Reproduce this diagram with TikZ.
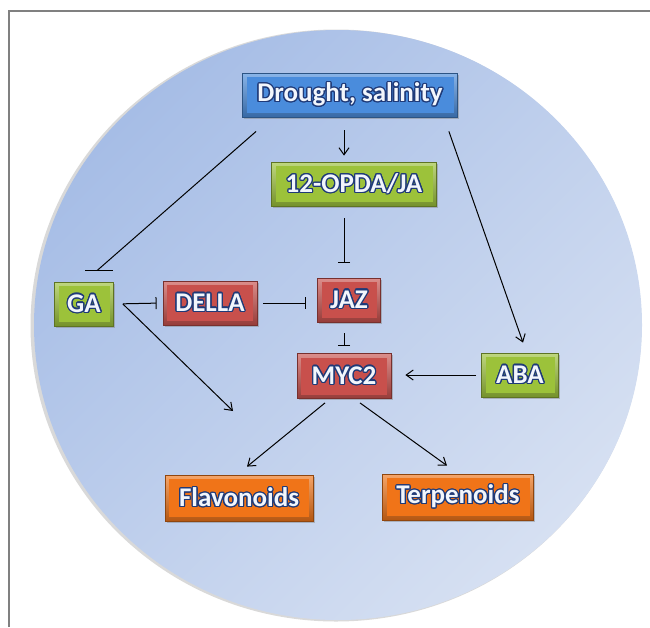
\documentclass[tikz,border=0pt]{standalone}
\usepackage{fontspec}
\setmainfont{Carlito}
\usepackage[copies]{contour}
\contourlength{1.2pt}
\usetikzlibrary{arrows.meta,calc,positioning,shadows}
\definecolor{rand}{HTML}{1F3A78}
\definecolor{skrift}{HTML}{F2F6FC}
\definecolor{blaa}{HTML}{4A8CDC}
\definecolor{gruen}{HTML}{9CC23A}
\definecolor{rot}{HTML}{C8504C}
\definecolor{orange}{HTML}{F07418}
\definecolor{kreisA}{HTML}{A6BDE6}
\definecolor{kreisB}{HTML}{D6E0F2}
\tikzset{
    >={Straight Barb[length=7pt,width=10pt]},
    boks/.style={
           rectangle,
           draw=#1!60!black, line width=0.8pt,
           top color=#1!65!white, bottom color=#1!75!black,
           path picture={\fill[#1] ([xshift=4pt, yshift=-4pt]path picture bounding box.north west)
                 rectangle ([xshift=-4pt, yshift=4pt]path picture bounding box.south east);},
           minimum height=44pt,
           inner sep=0pt,
           font=\fontsize{27}{27}\selectfont\bfseries,
           text=skrift,
           drop shadow={shadow xshift=1.5pt, shadow yshift=-1.5pt, opacity=.45},
           text centered},
    pil/.style={
           ->,
           line width=1pt},
    hem/.style={
           -{Bar[width=12pt]},
           line width=1pt}
}
\newcommand{\lbl}[1]{\contour{rand}{#1}}

\begin{document}
\begin{tikzpicture}[x=1pt, y=-1pt]
        \useasboundingbox (0,0) rectangle (650,627);
        \draw[black!50, line width=1.2pt] (9,627) -- (9,11) -- (650,11);

        \fill[black!25, opacity=.6] (336,325.5) ellipse [x radius=305.5pt, y radius=296pt];
        \shade[top color=kreisA, bottom color=kreisB, shading angle=45]
              (338,325) ellipse [x radius=304pt, y radius=295pt];

        \node[boks=blaa, minimum width=215pt] (drought) at (350,95) {\lbl{Drought, salinity}};
        \node[boks=gruen, minimum width=165pt] (opda) at (354,184) {\lbl{12-OPDA/JA}};
        \node[boks=gruen, minimum width=59pt] (ga) at (84,304) {\lbl{GA}};
        \node[boks=rot, minimum width=94pt] (della) at (210,303) {\lbl{DELLA}};
        \node[boks=rot, minimum width=63pt] (jaz) at (349,300) {\lbl{JAZ}};
        \node[boks=rot, minimum width=94pt, minimum height=45pt] (myc) at (344,376) {\lbl{MYC2}};
        \node[boks=gruen, minimum width=77pt] (aba) at (520,375) {\lbl{ABA}};
        \node[boks=orange, minimum width=148pt, minimum height=46pt] (flav) at (239,498) {\lbl{Flavonoids}};
        \node[boks=orange, minimum width=151pt, minimum height=46pt] (terp) at (458,497) {\lbl{Terpenoids}};

        \coordinate (gatop) at ([xshift=13pt, yshift=11pt]ga.north);
        \coordinate (ziel) at (233,411);

        \draw[pil, shorten <=13pt, shorten >=6pt] (drought.south -| myc) -- (opda.north -| myc);
        \draw[pil] ([xshift=-9pt, yshift=-14pt]drought.south east) -- ([xshift=3pt, yshift=10pt]aba.north);
        \draw[line width=1pt] ([xshift=14pt, yshift=-14pt]drought.south west) -- (gatop);
        \draw[line width=1pt] ([xshift=-12pt]gatop) -- ([xshift=16pt]gatop);

        \draw[hem, shorten <=12pt, shorten >=15pt] (opda.south -| myc) -- (jaz.north -| myc);
        \draw[hem, shorten <=11pt, shorten >=7.5pt] (jaz.south -| myc) -- (myc.north);
        \draw[hem, shorten <=9pt, shorten >=6pt] (ga.east) -- (della.west);
        \draw[hem, shorten <=6pt, shorten >=11pt] (della.east) -- (della.east -| jaz.west);

        \draw[pil] ([xshift=9pt]ga.east) -- (ziel);
        \draw[pil, shorten <=5pt, shorten >=14pt] (aba.west) -- (aba.west -| myc.east);
        \draw[pil] ([xshift=-19pt, yshift=-4pt]myc.south) -- ([xshift=8pt, yshift=8pt]flav.north);
        \draw[pil] ([xshift=16pt, yshift=-4pt]myc.south) -- ([xshift=-11pt, yshift=8pt]terp.north);
\end{tikzpicture}
\end{document}
